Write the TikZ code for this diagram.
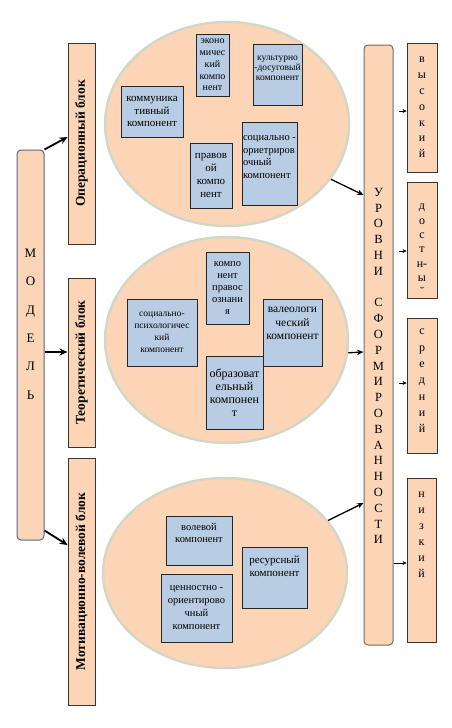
\documentclass[tikz,border=0pt]{standalone}
\usepackage{fontspec}
\setmainfont{Liberation Serif}
\usetikzlibrary{shapes.geometric,arrows.meta,calc}
\definecolor{peach}{HTML}{FBD5B5}
\definecolor{compblue}{HTML}{B8CCE4}
\definecolor{glow}{HTML}{D3D7C6}
\definecolor{modelborder}{HTML}{56688A}
\definecolor{urovborder}{HTML}{7A6A5C}
\definecolor{darkborder}{HTML}{3A332E}
\newcommand\myfs[2]{\fontsize{#1}{#2}\selectfont}
\begin{document}
\begin{tikzpicture}[x=1pt,y=-1pt,
  ell/.style={ellipse,fill=peach,draw=glow,line width=2.4pt,inner sep=0pt},
  comp/.style={rectangle,draw=black!85,fill=compblue,line width=0.9pt,inner sep=0.5pt,align=center},
  blockbox/.style={rectangle,draw=darkborder,fill=peach,line width=0.9pt,inner sep=0pt,minimum width=27pt},
  levelbox/.style={rectangle,draw=darkborder,fill=peach,line width=0.9pt,inner sep=0pt,minimum width=30pt,align=center},
  lettertext/.style={align=center,inner sep=0pt},
  bigarr/.style={-{Stealth[length=8pt,width=7pt]},line width=1.8pt},
  midarr/.style={-{Stealth[length=6.5pt,width=5.5pt]},line width=1.3pt},
  smallarr/.style={-{Stealth[length=4pt,width=4pt]},line width=0.8pt}]
\useasboundingbox (0,0) rectangle (452,728);

% ellipses
\node[ell,minimum width=244pt,minimum height=204pt] (e1) at (227,124) {};
\node[ell,minimum width=243pt,minimum height=206pt] (e2) at (226.5,340) {};
\node[ell,minimum width=244pt,minimum height=190pt] (e3) at (225,573) {};

% model box
\node[rectangle,rounded corners=4pt,draw=modelborder,fill=peach,line width=1pt,
      minimum width=27pt,minimum height=390pt,inner sep=0pt] (model) at (30.5,345) {};
\node[lettertext,font=\myfs{13}{28.4}] (modeltext) at (30.5,324)
  {М\\О\\Д\\Е\\Л\\Ь};

% blocks
\node[blockbox,minimum height=201pt] (b1) at (81.5,143.5)
  {\rotatebox{90}{\myfs{13.5}{16}\bfseries Операционный блок}};
\node[blockbox,minimum height=169pt] (b2) at (81.5,362.5)
  {\rotatebox{90}{\myfs{13.5}{16}\bfseries Теоретический блок}};
\node[blockbox,minimum height=247pt] (b3) at (81.5,581.5)
  {\rotatebox{90}{\myfs{13.5}{16}\bfseries Мотивационно-волевой блок}};

% top ellipse components
\node[comp,minimum width=62pt,minimum height=51pt,font=\myfs{11}{12.3}] (k1) at (152,111.5)
  {коммуника\\тивный\\компонент};
\node[comp,minimum width=33pt,minimum height=62pt,font=\myfs{10}{11.7}] (k2) at (212.5,65)
  {эконо\\мичес\\кий\\компо\\нент};
\node[comp,minimum width=49pt,minimum height=61pt,font=\myfs{9.5}{10}] (k3) at (277.5,74.5)
  {культурно\\-досуговый\\компонент\\[2pt]};
\node[comp,minimum width=42pt,minimum height=65pt,font=\myfs{11}{13}] (k4) at (211,175.5)
  {правов\\ой\\компо\\нент};
\node[comp,minimum width=55pt,minimum height=83pt,align=left,font=\myfs{10.5}{12.5}] (k5) at (269.5,163.5)
  {социально -\\ориетриров\\очный\\компонент\\\mbox{}};

% middle ellipse components
\node[comp,minimum width=70pt,minimum height=67pt,font=\myfs{9.5}{12}] (m1) at (162,332.5)
  {социально-\\психологичес\\кий\\компонент};
\node[comp,minimum width=43pt,minimum height=72pt,font=\myfs{10.5}{12.2}] (m2) at (227.5,288)
  {компо\\нент\\правос\\ознани\\я};
\node[comp,minimum width=59pt,minimum height=67pt,font=\myfs{11.5}{13.5}] (m3) at (292.5,332.5)
  {валеологи\\ческий\\компонент\\[4pt]};
\node[comp,minimum width=57pt,minimum height=73pt,font=\myfs{12}{13}] (m4) at (234.5,392.5)
  {\mbox{}\\[-4pt]образоват\\ельный\\компонен\\т};

% bottom ellipse components
\node[comp,minimum width=66pt,minimum height=49pt,font=\myfs{10.5}{12}] (n1) at (199,540.5)
  {волевой\\компонент\\[3pt]};
\node[comp,minimum width=71pt,minimum height=68pt,font=\myfs{10.5}{13}] (n2) at (196.5,608)
  {ценностно -\\ориентирово\\чный\\компонент};
\node[comp,minimum width=65pt,minimum height=61pt,font=\myfs{11}{13.5}] (n3) at (274.5,577.5)
  {ресурсный\\компонент\\\mbox{}\\[-4pt]};

% levels column
\node[rectangle,rounded corners=4pt,draw=urovborder,fill=peach,line width=1pt,
      minimum width=29pt,minimum height=600pt,inner sep=0pt] (urov) at (378.5,345) {};
\node[lettertext,font=\myfs{12.5}{15.8}] (urovtext) at (378.5,366)
  {У\\Р\\О\\В\\Н\\И\\\mbox{}\\С\\Ф\\О\\Р\\М\\И\\Р\\О\\В\\А\\Н\\Н\\О\\С\\Т\\И};

\node[levelbox,minimum height=129pt] (l1) at (422,107.5) {};
\node[levelbox,minimum height=116pt] (l2) at (422,240) {};
\node[levelbox,minimum height=135pt] (l3) at (422,385.5) {};
\node[levelbox,minimum width=29pt,minimum height=164pt] (l4) at (421.5,560) {};

\node[lettertext,font=\myfs{12}{15.8}] (l1text) at (422,107.5) {в\\ы\\с\\о\\к\\и\\й};
\node[lettertext,font=\myfs{12}{14.3}] (l2text) at (422,250) {д\\о\\с\\т\\н-\\ы\\˘};
\node[lettertext,font=\myfs{12}{16.3}] (l3text) at (422,381) {с\\р\\е\\д\\н\\и\\й};
\node[lettertext,font=\myfs{12}{16}] (l4text) at (421.5,535) {н\\и\\з\\к\\и\\й};

% arrows from model to blocks
\draw[bigarr] (model.north east) -- ($(b1.west)+(0,-6.5)$);
\draw[bigarr] ($(model.east)+(0,7)$) -- ($(b2.west)+(0,-10.5)$);
\draw[bigarr] ($(model.south east)+(0,-10)$) -- ($(b3.west)+(0,-36.5)$);

% arrows from ellipses to levels column
\draw[midarr] (e1.-28) -- ($(urov.west)+(0,-150)$);
\draw[midarr] (e2.-6) -- ($(urov.west)+(0,7)$);
\draw[midarr] (e3.27) -- ($(urov.west)+(0,158)$);

% arrows to level boxes
\coordinate (s1) at (399,111);
\coordinate (s2) at (399,251);
\coordinate (s3) at (399,383);
\draw[smallarr] (s1) -- (s1 -| l1.west);
\draw[smallarr] (s2) -- (s2 -| l2.west);
\draw[smallarr] (s3) -- (s3 -| l3.west);
\draw[smallarr] ($(urov.east)+(0,218)$) -- ($(l4.west)+(0,3)$);
\end{tikzpicture}
\end{document}
